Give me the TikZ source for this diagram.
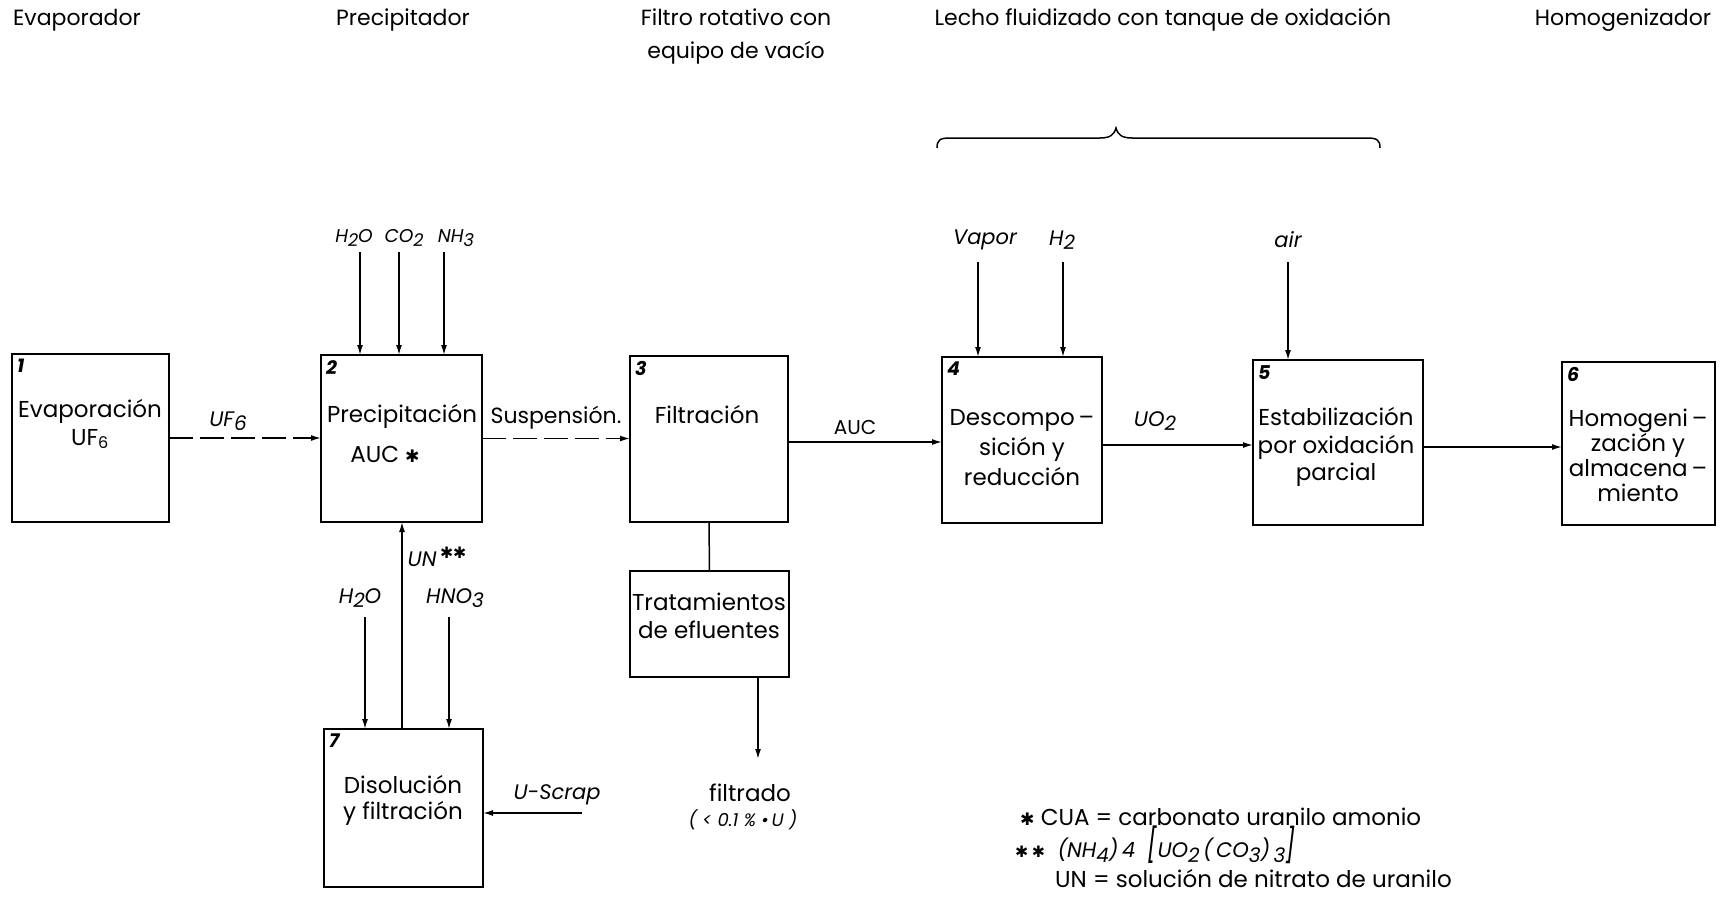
\documentclass[tikz,border=0pt]{standalone}
\usepackage{fontspec}
\setmainfont{Poppins}
\newfontfamily\symfont{DejaVu Sans}
\usetikzlibrary{arrows.meta,calc}
\newcommand\lo[1]{\raisebox{-0.4ex}{\scalebox{0.95}{#1}}}
\newcommand\astk{{\symfont\scalebox{0.75}{✱}}}
\tikzset{
  box/.style={draw, line width=2pt, inner sep=0pt, outer sep=0pt},
  num/.style={anchor=north west, font=\fontsize{19}{19}\selectfont\bfseries\itshape, inner sep=0pt},
  txt/.style={font=\fontsize{23}{26}\selectfont, align=center, inner sep=0pt},
  lbl/.style={font=\fontsize{21}{22}\selectfont\itshape, inner sep=0pt},
  slbl/.style={font=\fontsize{18.5}{20}\selectfont\itshape, inner sep=0pt},
  ttl/.style={font=\fontsize{22}{33}\selectfont, align=center, inner sep=0pt},
  arr/.style={line width=1.5pt, -{Latex[length=10pt,width=6pt]}},
  brk/.style={arr, dash pattern=on 24pt off 7pt},
}
\begin{document}
\begin{tikzpicture}[x=1pt,y=-1pt]
\useasboundingbox (0,0) rectangle (1724,907);
% titles
\node[ttl] (t1) at (77,20) {Evaporador};
\node[ttl] (t2) at (403,20) {Precipitador};
\node[ttl] (t3) at (736,36) {Filtro rotativo con\\equipo de vacío};
\node[ttl] (t4) at (1163,20) {Lecho fluidizado con tanque de oxidación};
\node[ttl] (t5) at (1623,20) {Homogenizador};
% brace
\draw[line width=1.5pt] (937,148) .. controls (937,140) and (940,138) .. (950,138) -- (1100,138) .. controls (1110,138) and (1114,135) .. (1116,128) .. controls (1118,135) and (1122,138) .. (1132,138) -- (1367,138) .. controls (1377,138) and (1380,140) .. (1380,148);
% boxes
\node[box, minimum width=157pt, minimum height=168pt] (b1) at (90.5,438) {};
\node[box, minimum width=161pt, minimum height=167pt] (b2) at (401.5,438.5) {};
\node[box, minimum width=158pt, minimum height=166pt] (b3) at (709,439) {};
\node[box, minimum width=159pt, minimum height=106pt] (bt) at (709.5,624) {};
\node[box, minimum width=160pt, minimum height=166pt] (b4) at (1022,440) {};
\node[box, minimum width=170pt, minimum height=165pt] (b5) at (1338,442.5) {};
\node[box, minimum width=153pt, minimum height=163pt] (b6) at (1638.5,443.5) {};
\node[box, minimum width=159pt, minimum height=158pt] (b7) at (403.5,808) {};
% numbers
\node[num] (n1) at ([xshift=5pt,yshift=-5pt]b1.north west) {1};
\node[num] (n2) at ([xshift=5pt,yshift=-5pt]b2.north west) {2};
\node[num] (n3) at ([xshift=5pt,yshift=-5pt]b3.north west) {3};
\node[num] (n4) at ([xshift=5pt,yshift=-5pt]b4.north west) {4};
\node[num] (n5) at ([xshift=5pt,yshift=-5pt]b5.north west) {5};
\node[num] (n6) at ([xshift=5pt,yshift=-5pt]b6.north west) {6};
\node[num] (n7) at ([xshift=5pt,yshift=-5pt]b7.north west) {7};
% box texts
\node[txt, font=\fontsize{23}{28}\selectfont] (x1) at (90,424) {Evaporación\\UF\textsubscript{6}};
\node[txt] (x2a) at (402,416) {Precipitación};
\node[txt] (x2b) at (385,454) {AUC \astk};
\node[txt] (x3) at (707,415) {Filtración};
\node[txt, font=\fontsize{23}{30}\selectfont] (x4) at (1022,448) {Descompo\,--\\sición y\\reducción};
\node[txt, font=\fontsize{23}{27.5}\selectfont] (x5) at (1336,447) {Estabilización\\por oxidación\\parcial};
\node[txt, font=\fontsize{23}{25}\selectfont] (x6) at (1638,455) {Homogeni\,--\\zación y\\almacena\,--\\miento};
\node[txt, font=\fontsize{23}{28}\selectfont] (xt) at (709,616) {Tratamientos\\de efluentes};
\node[txt, font=\fontsize{23}{26}\selectfont] (x7) at (403,800) {Disolución\\y filtración};
% main flow
\draw[brk] (b1.east) -- (b1.east -| b2.west);
\draw[brk] (b2.east) -- (b2.east -| b3.west);
\draw[arr] ([yshift=-3pt]b3.east) -- ([yshift=-3pt]b3.east -| b4.west);
\draw[arr] ([yshift=-5pt]b4.east) -- ([yshift=-5pt]b4.east -| b5.west);
\draw[arr] ([yshift=-4.5pt]b5.east) -- ([yshift=-4.5pt]b5.east -| b6.west);
\draw[line width=1.5pt] (b3.south) -- (bt.north);
\node[lbl] (lu) at (228,421) {UF\lo{6}};
\node[txt, font=\fontsize{22}{24}\selectfont] (ls) at (556,418) {Suspensión.};
\node[txt, font=\fontsize{20}{22}\selectfont] (la) at (855,428) {AUC};
\node[lbl] (lo2) at (1155,421) {UO\lo{2}};
% inputs to 2
\node[slbl] (ih2o) at (354,238) {H\lo{2}O};
\node[slbl] (ico2) at (404,238) {CO\lo{2}};
\node[slbl] (inh3) at (456,238) {NH\lo{3}};
\coordinate (c1) at (360,252);
\coordinate (c2) at (399,252);
\coordinate (c3) at (444,252);
\draw[arr] (c1) -- (c1 |- b2.north);
\draw[arr] (c2) -- (c2 |- b2.north);
\draw[arr] (c3) -- (c3 |- b2.north);
% inputs to 4 and 5
\node[lbl] (iv) at (985,240) {Vapor};
\node[lbl] (ih2) at (1062,240) {H\lo{2}};
\node[lbl] (iair) at (1288,240) {air};
\coordinate (c4) at (978,262);
\coordinate (c5) at (1063,262);
\coordinate (c6) at (1288,262);
\draw[arr] (c4) -- (c4 |- b4.north);
\draw[arr] (c5) -- (c5 |- b4.north);
\draw[arr] (c6) -- (c6 |- b5.north);
% recycle
\coordinate (cu) at (402,0);
\draw[arr] (b7.north -| cu) -- (b2.south -| cu);
\node[lbl] (lun) at (437,557) {UN\,\raisebox{0.7ex}{\astk\astk}};
\node[lbl] (jh2o) at (360,598) {H\lo{2}O};
\node[lbl] (jhno3) at (455,598) {HNO\lo{3}};
\coordinate (d1) at (365,617);
\coordinate (d2) at (449,617);
\draw[arr] (d1) -- (d1 |- b7.north);
\draw[arr] (d2) -- (d2 |- b7.north);
\node[lbl] (lus) at (557,795) {U-Scrap};
\coordinate (d3) at (582,813);
\draw[arr] (d3) -- (d3 -| b7.east);
% filtrate
\coordinate (fa) at (758,0);
\coordinate (fe) at (758,759);
\draw[arr] (bt.south -| fa) -- (fe);
\node[txt] (lf) at (750,793) {filtrado};
\node[lbl, font=\fontsize{18}{20}\selectfont\itshape] (lf2) at (743,820) {( < 0.1 \% \textbullet\,U )};
% legend
\node[txt, anchor=west] (g1) at (1020,817) {\astk\ CUA = carbonato uranilo amonio};
\node[lbl, anchor=west] (g2) at (1015,845) {\astk\,\astk\ \ (NH\lo{4})\,4\ \ \scalebox{1.1}[1.6]{[}UO\lo{2}\,(\,CO\lo{3})\,\lo{3}\scalebox{1.1}[1.6]{]}};
\node[txt, anchor=west] (g3) at (1055,879) {UN = solución de nitrato de uranilo};
\end{tikzpicture}
\end{document}
